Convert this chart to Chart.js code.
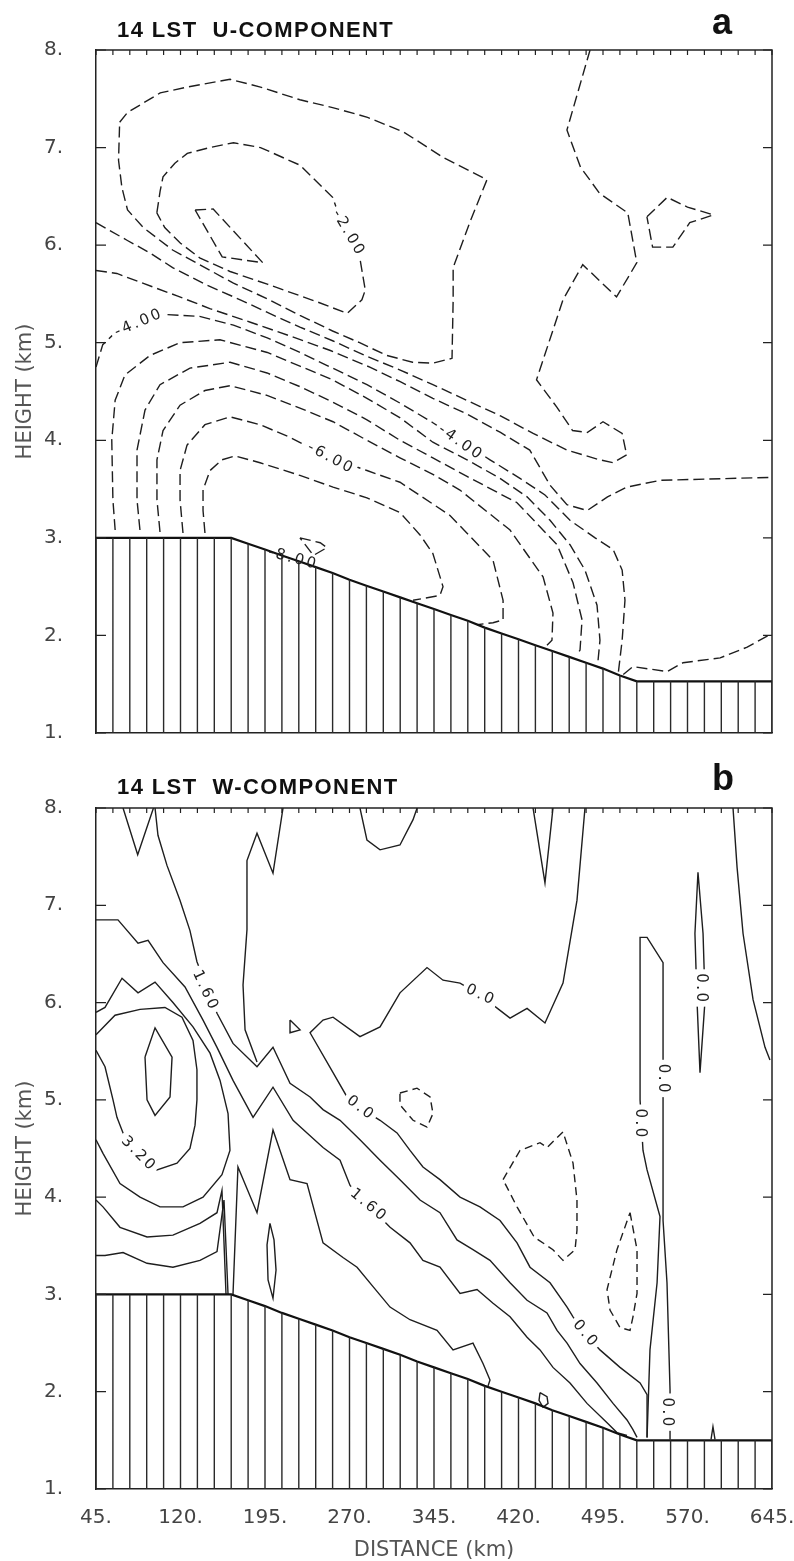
<!DOCTYPE html>
<html><head><meta charset="utf-8">
<script src="https://cdn.jsdelivr.net/npm/chart.js@4.4.1/dist/chart.umd.min.js"></script>
<style>
html,body{margin:0;padding:0;background:#fff;}
#page{position:relative;width:794px;height:1561px;overflow:hidden;background:#fff;}
canvas{position:absolute;left:0;}
#cA{top:0;width:794px;height:770px;}
#cB{top:758px;width:794px;height:803px;}
.ttl{position:absolute;left:117px;font-family:"Liberation Sans",Arial,sans-serif;font-weight:bold;font-size:22px;line-height:22px;letter-spacing:1.4px;white-space:pre;color:#111;}
.let{position:absolute;left:712px;font-family:"Liberation Sans",Arial,sans-serif;font-weight:bold;font-size:36px;line-height:36px;color:#111;}
</style></head><body>
<div id="page">
<canvas id="cA" width="794" height="770"></canvas>
<canvas id="cB" width="794" height="803"></canvas>
<div class="ttl" style="top:19px">14 LST  U-COMPONENT</div>
<div class="let" style="top:4px">a</div>
<div class="ttl" style="top:776px">14 LST  W-COMPONENT</div>
<div class="let" style="top:760px">b</div>
</div>
<script>
// ---------- axis ticks / grid ----------
const xTicks = [45,120,195,270,345,420,495,570,645];
const yTicks = [1,2,3,4,5,6,7,8];
const gridKm = [45,60,75,90,105,120,135,150,165,180,195,210,225,240,255,270,285,300,315,330,345,360,375,390,405,420,435,450,465,480,495,510,525,540,555,570,585,600,615,630,645];

// ---------- terrain heights (km) at each grid column ----------
const terrainA = [3.0,3.0,3.0,3.0,3.0,3.0,3.0,3.0,3.0,2.94,2.88,2.82,2.76,2.70,2.64,2.57,2.51,2.45,2.39,2.33,2.27,2.21,2.15,2.08,2.02,1.96,1.90,1.84,1.78,1.72,1.66,1.59,1.53,1.53,1.53,1.53,1.53,1.53,1.53,1.53,1.53];
const terrainB = [3.0,3.0,3.0,3.0,3.0,3.0,3.0,3.0,3.0,2.94,2.88,2.81,2.75,2.69,2.63,2.56,2.50,2.44,2.38,2.31,2.25,2.19,2.13,2.06,2.00,1.94,1.88,1.81,1.75,1.69,1.63,1.56,1.50,1.50,1.50,1.50,1.50,1.50,1.50,1.50,1.50];

// ---------- panel a : U-component contours [distance km, height km] ----------
const uL1 = [[66,7.26],[73,7.36],[102,7.56],[126,7.62],[164,7.70],[191,7.62],[226,7.49],[255,7.41],[286,7.31],[318,7.16],[353,6.90],[392,6.67],[377,6.24],[362,5.77],[362,5.44],[361,4.84],[344,4.79],[326,4.80],[303,4.87],[279,5.00],[255,5.12],[226,5.28],[197,5.45],[167,5.61],[137,5.80],[113,5.95],[87,6.18],[73,6.36],[68,6.59],[65,6.87],[66,7.26]];
const uM2 = [[99,6.33],[102,6.56],[104.5,6.70],[115,6.84],[126,6.94],[146,7.00],[167,7.05],[191,7.00],[226,6.82],[255,6.49],[259,6.36],[279,5.88],[284,5.54],[281,5.44],[268,5.30],[241,5.42],[197,5.60],[164,5.73],[137,5.87],[120,6.02],[106,6.18],[99,6.33]];
const uM3 = [[133,6.36],[149,6.37],[193,5.82],[157,5.88],[133,6.36]];
const uE1 = [[45,6.23],[72.5,6.05],[93,5.92],[113,5.77],[143.5,5.59],[173,5.44],[199,5.30],[226,5.16],[255,5.02],[285.5,4.86],[315,4.72],[344,4.57],[374,4.41],[404,4.25],[433,4.07],[463,3.90],[492,3.80],[504,3.77],[516,3.85],[512,4.07],[495,4.19],[481,4.08],[468,4.10],[454,4.34],[436,4.62],[459.5,5.44],[477,5.80],[507,5.47],[525,5.82],[517,6.33],[492,6.53],[475,6.80],[463,7.18],[483.5,8.0]];
const uE2 = [[45,5.74],[63.5,5.71],[86.5,5.61],[117,5.48],[146,5.35],[182,5.21],[217,5.07],[253,4.92],[288,4.75],[315,4.60],[344,4.43],[374,4.27],[404,4.08],[430,3.90],[448,3.54],[463,3.34],[481,3.28],[499,3.42],[516,3.52],[546,3.59],[645,3.62]];
const uE3 = [[45,4.75],[51,4.98],[59,5.07],[84,5.20],[106,5.29],[137,5.27],[167,5.18],[197,5.05],[226,4.90],[255,4.74],[285.5,4.57],[315,4.38],[344,4.18],[368,4.00],[394.7,3.80],[421.3,3.61],[443.5,3.44],[465.7,3.18],[488,3.00],[504,2.88],[512,2.67],[514.5,2.36],[512,1.95],[508.3,1.59]];
const uA1 = [[62,3.08],[60,3.39],[59,4.00],[62,4.41],[70.7,4.67],[93,4.87],[119.6,5.00],[155,5.03],[197,4.90],[226,4.76],[255,4.62],[285.5,4.43],[315,4.23],[344,3.98],[374.3,3.80],[403.6,3.61],[427.6,3.42],[448,3.18],[465.7,2.93],[479,2.67],[489.7,2.31],[492.3,1.95],[490.5,1.73]];
const uA2 = [[84,3.08],[81.4,3.39],[81.4,3.90],[88.5,4.31],[101.8,4.57],[128.4,4.74],[164,4.80],[196.8,4.69],[226,4.55],[255.4,4.39],[285.5,4.21],[314.8,4.00],[344,3.82],[374.3,3.63],[418.7,3.36],[454.2,2.93],[468.4,2.54],[476.4,2.16],[474.6,1.85],[472,1.80]];
const uA3 = [[101.8,3.06],[99.1,3.39],[99.1,3.80],[104.5,4.10],[119.6,4.36],[141.7,4.51],[164,4.56],[196.8,4.46],[226,4.33],[255.4,4.19],[285.5,4.00],[314.8,3.82],[344,3.65],[368,3.49],[412.5,3.08],[441.8,2.60],[450.6,2.23],[449.7,1.95],[445.3,1.90]];
const uA4 = [[122.2,3.05],[119.6,3.39],[119.6,3.69],[125.8,3.95],[141.7,4.16],[164,4.24],[190.6,4.16],[217.2,4.03],[252.7,3.82],[285.5,3.69],[314.8,3.57],[359.2,3.23],[397.4,2.77],[406.3,2.36],[406.3,2.16],[397.4,2.13],[383.2,2.11]];
const uA5 = [[141.7,3.05],[140,3.28],[140,3.49],[146.2,3.69],[156.8,3.80],[168.4,3.84],[190.6,3.77],[226,3.64],[255.4,3.52],[285.5,3.41],[314.8,3.26],[332.6,3.03],[344,2.84],[353,2.50],[350.3,2.41],[326.4,2.36]];
const uGr = [[226,3.00],[244,2.95],[250,2.90],[238,2.82],[226,3.00]];
const uR3 = [[513,1.60],[521.5,1.68],[552,1.63],[566,1.72],[599,1.77],[623,1.88],[645,2.02]];
const uRt = [[534,6.29],[552,6.49],[570,6.39],[593,6.31],[572,6.23],[557,5.98],[539,5.98],[534,6.29]];
const labelsA = [[268.7,6.13,'-2.00'],[82.3,5.20,'-4.00'],[368,3.98,'-4.00'],[252.7,3.82,'-6.00'],[219,2.79,'-8.00']];

// ---------- panel b : W-component contours ----------
const wB1 = [[69,8.0],[82,7.52],[96,8.0]];
const wB2 = [[97.4,8.0],[100,7.72],[108,7.41],[119.6,7.05],[128.4,6.74],[134.6,6.42],[144.4,6.13],[152.4,5.89],[166.6,5.58],[187.9,5.34],[202.1,5.54],[217.2,5.17],[235,5.03],[246.5,4.90],[261.6,4.79],[279.3,4.59],[297.1,4.38],[314.8,4.18],[332.6,3.97],[350.3,3.84],[365.4,3.56],[379.6,3.46],[394.7,3.35],[412.5,3.12],[427.6,2.94],[445.3,2.81],[454.2,2.63],[463.1,2.50],[474.6,2.29],[489.7,2.09],[503.9,1.88],[516.3,1.71],[521.6,1.61],[525.2,1.53]];
const wTop08 = [[211,8.0],[202.1,7.33],[187.9,7.74],[179,7.46],[179,6.75],[175.5,6.18],[177.3,5.72],[187.9,5.39]];
const wZ0 = [[479,8.0],[471.9,7.05],[459.5,6.20],[443.5,5.79],[427.6,5.94],[412.5,5.84],[403.6,5.92],[385.8,6.08],[368.1,6.20],[353,6.23],[338.8,6.36],[314.8,6.10],[297.1,5.75],[279.3,5.65],[255.4,5.85],[246.5,5.82],[235,5.69],[255.4,5.28],[267.8,5.03],[279.3,4.92],[297.1,4.79],[312.2,4.66],[323.7,4.48],[335.2,4.31],[350.3,4.18],[368.1,4.00],[385.8,3.90],[403.6,3.76],[418.7,3.53],[430.2,3.28],[448,3.12],[463.1,2.87],[468.4,2.77],[479,2.60],[492.3,2.43],[510.1,2.25],[527.9,2.09],[534.1,1.97],[534.1,1.53]];
const wB3 = [[45,6.85],[64.5,6.85],[82.3,6.61],[91.2,6.64],[104.5,6.41],[124,6.16],[140,5.82],[152.4,5.54],[166.6,5.20],[184.4,4.82],[202.1,5.13],[219.9,4.79],[232.3,4.66],[246.5,4.51],[261.6,4.38],[270.5,4.12],[286.4,3.92],[306,3.69],[323.7,3.53],[335.2,3.35],[350.3,3.28],[368.1,3.01],[383.2,3.05],[397.4,2.91],[412.5,2.77],[427.6,2.56],[439.1,2.43],[450.6,2.25],[465.7,2.09],[480.8,1.88],[498.6,1.68],[507.4,1.58],[516.3,1.55]];
const wY = [[166.6,3.0],[171,4.31],[187.9,3.84],[202.1,4.69],[217.2,4.18],[232.3,4.14],[246.5,3.53],[264.2,3.38],[276.7,3.28],[290.9,3.08],[306,2.87],[323.7,2.74],[347.7,2.63],[361.9,2.43],[379.6,2.50],[388.5,2.29],[394.7,2.12],[393,2.06]];
const wP3 = [[45,5.90],[53,5.95],[68.1,6.25],[82.3,6.10],[97.4,6.21],[113.3,6.00],[131.1,5.75],[146.2,5.48],[155.1,5.20],[162.2,4.86],[163.9,4.48],[156.8,4.23],[140,4.00],[122.2,3.90],[101.8,3.90],[84.1,4.00],[66.3,4.14],[51.2,4.45],[45,4.59]];
const wC32 = [[45,5.67],[61.9,5.87],[84.1,5.93],[106.2,5.95],[121.3,5.85],[131.1,5.61],[134.6,5.31],[134.6,5.00],[132.9,4.74],[128.4,4.50],[116.9,4.35],[99.1,4.28],[82.3,4.45],[69,4.66],[63.6,4.82],[60.1,5.00],[53,5.34],[45,5.51]];
const wIn = [[88.5,5.44],[97.4,5.74],[112.5,5.44],[110.7,5.03],[97.4,4.84],[90.3,5.00],[88.5,5.44]];
const wLb = [[45,3.97],[51.2,3.90],[66.3,3.69],[90.3,3.59],[113.3,3.61],[137.3,3.73],[152.4,3.84],[156.8,4.07],[160.4,3.0]];
const wLc = [[45,3.40],[53,3.40],[69,3.43],[90.3,3.32],[113.3,3.28],[137.3,3.35],[152.4,3.44],[158.6,3.97],[162.2,3.0]];
const wNarrow = [[199.4,3.73],[203,3.56],[204.8,3.25],[202.1,2.96],[197.7,3.15],[196.8,3.51],[199.4,3.73]];
const wTri = [[217.2,5.82],[226.1,5.72],[217.2,5.69],[217.2,5.82]];
const wU = [[279.3,8.0],[285.5,7.67],[297.1,7.57],[314.8,7.62],[326.4,7.88],[330,8.0]];
const wV = [[432.9,8.0],[443.5,7.23],[450.6,8.0]];
const wFarLoop = [[579.3,7.34],[583.8,6.71],[585.6,6.03],[581.1,5.28],[578.4,6.03],[576.6,6.71],[579.3,7.34]];
const wFarLine = [[610.4,8.0],[614,7.39],[619.3,6.71],[628.2,6.03],[638.8,5.54],[643.2,5.41]];
const wTall = [[534.1,1.53],[536.7,2.43],[543,3.12],[545.6,3.80],[534.1,4.28],[530.5,4.48],[527.9,5.00],[527.9,6.30],[527.9,6.67],[534.1,6.67],[548.3,6.41],[548.3,3.76],[551.8,3.12],[554.5,2.02],[554.5,1.51]];
const wTiny = [[439.1,1.99],[445.3,1.95],[446.2,1.88],[441.8,1.84],[438.2,1.91],[439.1,1.99]];
const wSpike = [[590.9,1.51],[592.6,1.64],[594.4,1.51]];
const wD1 = [[406.3,4.18],[421.3,4.48],[439.1,4.56],[445.3,4.51],[459.5,4.67],[468.4,4.35],[471.9,3.97],[471.9,3.66],[470.2,3.46],[459.5,3.35],[450.6,3.46],[433.9,3.59],[418.7,3.90],[406.3,4.18]];
const wD2 = [[519,3.84],[525.2,3.46],[525.2,3.01],[521.6,2.77],[519,2.63],[510.1,2.66],[501.2,2.84],[498.6,3.05],[507.4,3.46],[519,3.84]];
const wD3 = [[314.8,5.07],[329.9,5.12],[341.5,5.03],[344.1,4.86],[338.8,4.72],[326.4,4.79],[314.8,4.95],[314.8,5.07]];
const labelsB = [[141.7,6.13,'1.60'],[286.4,3.92,'1.60'],[82.3,4.45,'3.20'],[385.8,6.08,'0.0'],[279.3,4.92,'0.0'],[479,2.60,'0.0'],[582,6.15,'0.0'],[548.3,5.22,'0.0'],[527.9,4.76,'0.0'],[551.8,1.79,'0.0']];

// ---------- drawing ----------
const anglesA = [60,-23,35,28,15];
const boxesA = [true,true,true,true,false];
const anglesB = [65,40,45,25,38,50,90,90,90,90];
const boxesB = [true,true,true,true,true,true,true,true,true,true];

const pts = a => a.map(p => ({x: p[0], y: p[1]}));
function hatchData(terr) {
  const out = [];
  gridKm.forEach((km, i) => { out.push({x: km, y: 1}, {x: km, y: terr[i]}, {x: km, y: null}); });
  return out;
}
function lineDs(arr, dash) {
  return {data: pts(arr), showLine: true, borderColor: '#1e1e1e', borderWidth: 1.4,
          borderDash: dash || [], pointRadius: 0, fill: false, tension: 0};
}
function framePlugin(labels, angles, boxes) {
  return {
    id: 'frame',
    afterDatasetsDraw(chart) {
      const {ctx, chartArea: a, scales: {x, y}} = chart;
      ctx.save();
      ctx.strokeStyle = '#222';
      ctx.lineWidth = 1.5;
      ctx.setLineDash([]);
      ctx.beginPath();
      ctx.moveTo(a.left, a.top); ctx.lineTo(a.right, a.top); ctx.lineTo(a.right, a.bottom);
      ctx.stroke();
      ctx.lineWidth = 1.2;
      ctx.beginPath();
      yTicks.forEach(v => {
        const py = y.getPixelForValue(v);
        ctx.moveTo(a.left, py); ctx.lineTo(a.left + 10, py);
        ctx.moveTo(a.right - 9, py); ctx.lineTo(a.right, py);
      });
      gridKm.forEach(v => {
        const px = x.getPixelForValue(v);
        ctx.moveTo(px, a.top); ctx.lineTo(px, a.top + 5);
      });
      ctx.stroke();
      ctx.font = '15px "DejaVu Sans"';
      try { ctx.letterSpacing = '2.5px'; } catch (e) {}
      ctx.textAlign = 'center';
      ctx.textBaseline = 'middle';
      labels.forEach((l, i) => {
        const px = x.getPixelForValue(l[0]);
        const py = y.getPixelForValue(l[1]);
        ctx.save();
        ctx.translate(px, py);
        ctx.rotate(angles[i] * Math.PI / 180);
        const w = ctx.measureText(l[2]).width;
        if (boxes[i]) { ctx.fillStyle = '#fff'; ctx.fillRect(-w / 2 - 3, -8, w + 6, 16); }
        ctx.fillStyle = '#222';
        ctx.fillText(l[2], 1, 0);
        ctx.restore();
      });
      ctx.restore();
    }
  };
}
function build(id, cfg) {
  return new Chart(document.getElementById(id), {
    type: 'scatter',
    data: {datasets: [
      {data: hatchData(cfg.terrain), showLine: true, borderColor: '#2a2a2a', borderWidth: 1.4, pointRadius: 0, spanGaps: false},
      {data: cfg.terrain.map((t, i) => ({x: gridKm[i], y: t})), showLine: true, borderColor: '#111', borderWidth: 2.2, pointRadius: 0},
      ...cfg.solid.map(a => lineDs(a)),
      ...cfg.dashed.map(a => lineDs(a, cfg.dash))
    ]},
    options: {
      responsive: false, animation: false, devicePixelRatio: 1, events: [],
      layout: {padding: {top: 50, right: 22, left: 0, bottom: 0}},
      plugins: {legend: {display: false}, tooltip: {enabled: false}, title: {display: false}},
      elements: {point: {radius: 0}, line: {tension: 0}},
      scales: {
        x: {
          type: 'linear', min: 45, max: 645,
          afterBuildTicks: s => { s.ticks = xTicks.map(v => ({value: v})); },
          afterFit: s => { s.height = cfg.xAxisH; s.paddingLeft = 0; s.paddingRight = 0; },
          grid: {display: false},
          border: {display: true, color: '#222', width: 1.5},
          ticks: {display: cfg.showX, padding: 9, autoSkip: false, maxRotation: 0,
                  font: {family: 'DejaVu Sans', size: 20}, color: '#444', callback: v => v + '.'},
          title: {display: cfg.showX, text: 'DISTANCE (km)', color: '#555',
                  font: {family: 'DejaVu Sans', size: 21, lineHeight: 1.0}, padding: {top: 0, bottom: 0}}
        },
        y: {
          type: 'linear', min: 1, max: 8,
          afterBuildTicks: s => { s.ticks = yTicks.map(v => ({value: v})); },
          afterFit: s => { s.width = 96; },
          grid: {display: false},
          border: {display: true, color: '#222', width: 1.5},
          ticks: {padding: 25, font: {family: 'DejaVu Sans', size: 20}, color: '#444', callback: v => v + '.'},
          title: {display: true, text: 'HEIGHT (km)', color: '#555',
                  font: {family: 'DejaVu Sans', size: 21}, padding: {top: 13, bottom: 0}}
        }
      }
    },
    plugins: [framePlugin(cfg.labels, cfg.angles, cfg.boxes)]
  });
}

build('cA', {
  terrain: terrainA, showX: false, xAxisH: 37, dash: [11, 5],
  solid: [],
  dashed: [uL1, uM2, uM3, uE1, uE2, uE3, uA1, uA2, uA3, uA4, uA5, uGr, uR3, uRt],
  labels: labelsA, angles: anglesA, boxes: boxesA
});
build('cB', {
  terrain: terrainB, showX: true, xAxisH: 72, dash: [8, 5],
  solid: [wB1, wB2, wTop08, wZ0, wB3, wY, wP3, wC32, wIn, wLb, wLc, wNarrow, wTri, wU, wV, wFarLoop, wFarLine, wTall, wTiny, wSpike],
  dashed: [wD1, wD2, wD3],
  labels: labelsB, angles: anglesB, boxes: boxesB
});
</script>
</body></html>
